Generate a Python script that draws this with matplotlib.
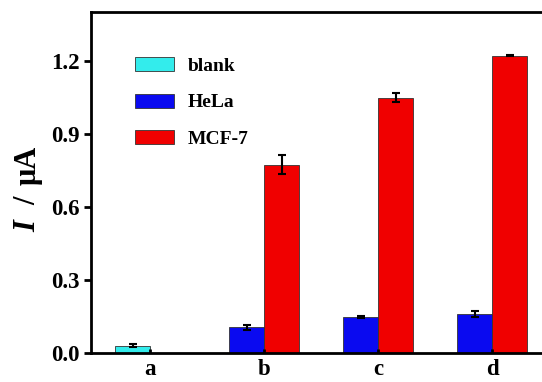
import numpy as np
import matplotlib
matplotlib.use('Agg')
import matplotlib.pyplot as plt

# data
groups      = ['a', 'b', 'c', 'd']
blank_val   = [0.03]
blank_err   = [0.006]
hela_val    = [0.106, 0.148, 0.161]
hela_err    = [0.010, 0.003, 0.013]
mcf7_val    = [0.773, 1.048, 1.220]
mcf7_err    = [0.038, 0.020, 0.003]

c_blank = '#33ECEC'
c_hela  = '#0A0AF0'
c_mcf7  = '#F00000'

plt.rcParams['font.family'] = ['Liberation Serif', 'DejaVu Serif']
plt.rcParams['font.weight'] = 'bold'

fig = plt.figure(figsize=(5.42, 3.82), dpi=100, facecolor='w')
ax = fig.add_axes([0.168, 0.076, 0.849, 0.893])

w = 0.307
x = np.arange(len(groups))
ekw = dict(ecolor='k', elinewidth=1.5, capsize=3, capthick=1.5)

ax.bar(x[:1] - w/2, blank_val, w, yerr=blank_err, color=c_blank, edgecolor='#333333', linewidth=0.6, error_kw=ekw, label='blank')
ax.bar(x[1:] - w/2, hela_val, w, yerr=hela_err, color=c_hela, edgecolor='#333333', linewidth=0.6, error_kw=ekw, label='HeLa')
ax.bar(x[1:] + w/2, mcf7_val, w, yerr=mcf7_err, color=c_mcf7, edgecolor='#333333', linewidth=0.6, error_kw=ekw, label='MCF-7')

ax.set_xlim(-0.518, 3.518)
ax.set_ylim(0, 1.4)
ax.set_yticks([0.0, 0.3, 0.6, 0.9, 1.2])
ax.set_yticklabels(['0.0', '0.3', '0.6', '0.9', '1.2'])
ax.set_xticks(x)
ax.set_xticklabels(groups)

for sp in ax.spines.values():
    sp.set_linewidth(2)

ax.tick_params(axis='y', direction='out', length=5, width=2, labelsize=16.5, pad=3)
ax.tick_params(axis='x', direction='in', length=3, width=2, labelsize=16.5, pad=4)
for lab in ax.get_xticklabels() + ax.get_yticklabels():
    lab.set_fontweight('bold')

# y label: italic I, slash and unit spread out like the original
ax.text(-0.137, 0.355, 'I', transform=ax.transAxes, rotation=90, fontsize=22,
        fontweight='bold', style='italic', ha='center', va='bottom')
ax.text(-0.137, 0.434, '/', transform=ax.transAxes, rotation=90, fontsize=22,
        fontweight='bold', ha='center', va='bottom')
ax.text(-0.137, 0.493, 'μA', transform=ax.transAxes, rotation=90, fontsize=22,
        fontweight='bold', ha='center', va='bottom')

lgd = ax.legend(loc='upper left', bbox_to_anchor=(0.0965, 0.867), frameon=False,
                fontsize=14, handlelength=2.0, handleheight=0.75,
                labelspacing=0.95, handletextpad=0.7, borderpad=0, borderaxespad=0)
for t in lgd.get_texts():
    t.set_fontweight('bold')

fig.savefig('out.png', dpi=100)
plt.close(fig)
